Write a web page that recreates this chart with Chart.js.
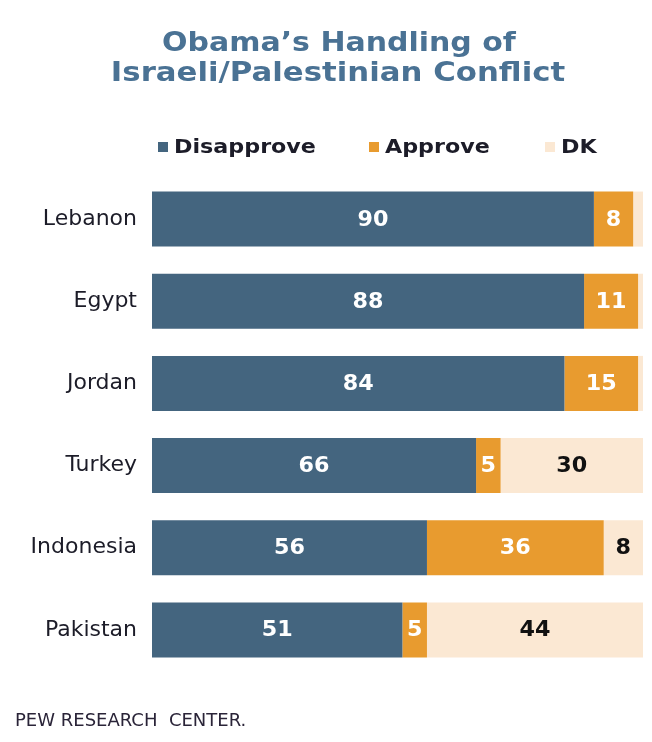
<!DOCTYPE html>
<html>
<head>
<meta charset="utf-8">
<script src="https://cdn.jsdelivr.net/npm/chart.js@4/dist/chart.umd.min.js"></script>
<style>
  html, body { margin: 0; padding: 0; background: #ffffff; }
  #wrap { width: 652px; height: 742px; position: relative; }
</style>
</head>
<body>
<div id="wrap"><canvas id="chart"></canvas></div>
<script>
// Survey results: views of Obama's handling of the Israeli/Palestinian conflict
const countries = ['Lebanon', 'Egypt', 'Jordan', 'Turkey', 'Indonesia', 'Pakistan'];
const disapprove = [90, 88, 84, 66, 56, 51];
const approve = [8, 11, 15, 5, 36, 5];
const dontKnow = [2, 1, 1, 30, 8, 44];

const titleLines = ['Obama\u2019s Handling of', 'Israeli/Palestinian Conflict'];
const sourceNote = 'PEW RESEARCH  CENTER.';

const COLORS = {
  disapprove: '#44657f',
  approve: '#e89b2f',
  dk: '#fbe8d3',
  title: '#4a7294',
  text: '#1c1c28'
};

const FONT = '"DejaVu Sans", Verdana, sans-serif';

// Draws text widened horizontally (Verdana-like wide lettering)
function wideText(ctx, text, x, y, align, sx) {
  const w = ctx.measureText(text).width * sx;
  let left = x;
  if (align === 'center') left = x - w / 2;
  else if (align === 'right') left = x - w;
  ctx.save();
  ctx.textAlign = 'left';
  ctx.translate(left, y);
  ctx.scale(sx, 1);
  ctx.fillText(text, 0, 0);
  ctx.restore();
}

// Title, custom legend row and source note
const decorations = {
  id: 'decorations',
  afterDraw(chart) {
    const ctx = chart.ctx;
    ctx.save();
    ctx.textBaseline = 'alphabetic';
    ctx.fillStyle = COLORS.title;
    ctx.font = 'bold 27px ' + FONT;
    wideText(ctx, titleLines[0], 339, 51, 'center', 1.11);
    wideText(ctx, titleLines[1], 338, 81, 'center', 1.14);

    // legend
    const items = chart.data.datasets.map(d => ({ label: d.label, color: d.backgroundColor }));
    const xs = [158, 369, 545];
    ctx.font = 'bold 19px ' + FONT;
    ctx.textBaseline = 'middle';
    items.forEach((it, i) => {
      ctx.fillStyle = it.color;
      ctx.fillRect(xs[i], 142, 10, 10);
      ctx.fillStyle = COLORS.text;
      wideText(ctx, it.label, xs[i] + 16, 148, 'left', 1.17);
    });

    // source
    ctx.font = '18px ' + FONT;
    ctx.fillStyle = '#2a2438';
    ctx.textBaseline = 'alphabetic';
    ctx.textAlign = 'left';
    ctx.fillText(sourceNote, 15, 726);
    ctx.restore();
  }
};

// Value labels centred inside each bar segment
const valueLabels = {
  id: 'valueLabels',
  afterDatasetsDraw(chart) {
    const ctx = chart.ctx;
    const area = chart.chartArea;
    ctx.save();
    ctx.font = 'bold 21px ' + FONT;
    ctx.textBaseline = 'middle';
    chart.data.datasets.forEach((ds, di) => {
      const meta = chart.getDatasetMeta(di);
      meta.data.forEach((bar, i) => {
        const v = ds.data[i];
        if (v < 5) return;
        const left = Math.max(Math.min(bar.x, bar.base), area.left);
        const right = Math.min(Math.max(bar.x, bar.base), area.right);
        ctx.fillStyle = di === 2 ? '#111111' : '#ffffff';
        wideText(ctx, String(v), (left + right) / 2, bar.y + 1, 'center', 1.06);
      });
    });
    ctx.restore();
  }
};

new Chart(document.getElementById('chart'), {
  type: 'bar',
  data: {
    labels: countries,
    datasets: [
      { label: 'Disapprove', data: disapprove, backgroundColor: COLORS.disapprove },
      { label: 'Approve', data: approve, backgroundColor: COLORS.approve },
      { label: 'DK', data: dontKnow, backgroundColor: COLORS.dk }
    ]
  },
  options: {
    indexAxis: 'y',
    responsive: true,
    maintainAspectRatio: false,
    animation: false,
    layout: { padding: { top: 178, bottom: 71, left: 24, right: 9 } },
    datasets: { bar: { barPercentage: 0.67, categoryPercentage: 1, borderWidth: 0 } },
    scales: {
      x: { stacked: true, min: 0, max: 100, display: false },
      y: {
        stacked: true,
        grid: { display: false, drawTicks: false },
        border: { display: false },
        ticks: { color: '#1c1c28', font: { family: FONT, size: 22 }, padding: 15 },
        afterFit(scale) { scale.width = 128; }
      }
    },
    plugins: {
      legend: { display: false },
      title: { display: false },
      tooltip: { enabled: false }
    }
  },
  plugins: [valueLabels, decorations]
});
</script>
</body>
</html>
